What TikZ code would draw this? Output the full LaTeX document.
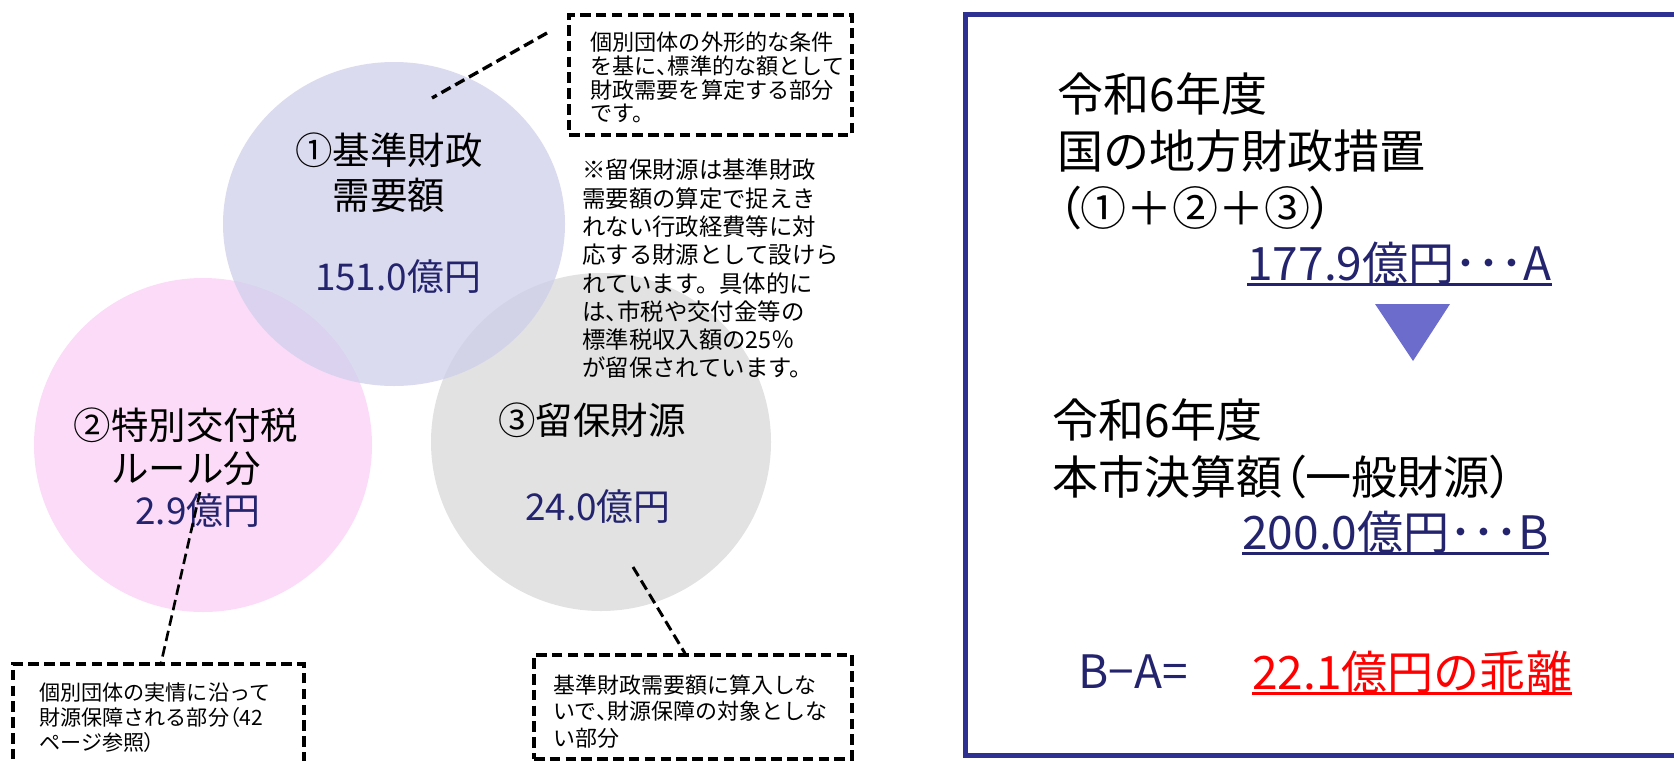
\documentclass[tikz,border=0pt]{standalone}
\usepackage{fontspec}
\setmainfont{Noto Sans CJK JP}
\usepackage{tikz}

\definecolor{lavfill}{RGB}{207,207,235}
\definecolor{pinkfill}{RGB}{251,219,248}
\definecolor{grayfill}{RGB}{226,226,226}
\definecolor{navytext}{RGB}{36,36,110}
\definecolor{framecol}{RGB}{46,49,146}
\definecolor{arrowfill}{RGB}{108,108,204}

\newcommand{\pnarrow}[1]{{\addfontfeature{RawFeature=+palt}#1}}

\begin{document}
\begin{tikzpicture}[scale=0.2]
    \tikzstyle{every node}+=[inner sep=0pt]
    \tikzstyle{bubble}=[font=\fontsize{21.3}{25.6}\selectfont, align=center]
    \tikzstyle{amount}=[font=\fontsize{21}{25}\selectfont, text=navytext]
    \tikzstyle{dashbox}=[draw, dash pattern=on 6pt off 3pt, line width=1.9pt]
    \tikzstyle{leader}=[dash pattern=on 6pt off 3pt, line width=1.9pt]
    \tikzstyle{boxtext}=[align=left, anchor=west]
    \tikzstyle{bigtext}=[font=\fontsize{26.2}{32.4}\selectfont, align=left, anchor=west]
    \useasboundingbox (0,0) rectangle (167.4,-76.0);
    % circles
    \fill [pinkfill] (20.3,-44.5) ellipse (16.9 and 16.7);
    \fill [grayfill] (60.1,-44.2) ellipse (17.0 and 16.9);
    \fill [lavfill, fill opacity=0.75] (39.4,-22.4) ellipse (17.1 and 16.2);
    \node [bubble] (kijun) at (38.9,-17.25) {①基準財政\\需要額};
    \node [amount] (kijunamt) at (39.8,-27.7) {151.0億円};
    \node [bubble, font=\fontsize{21.3}{24.5}\selectfont] (tokubetsu) at (18.6,-44.65) {②特別交付税\\ルール分};
    \node [amount] (tokubetsuamt) at (19.8,-51.1) {2.9億円};
    \node [bubble] (ryuho) at (59.2,-42.0) {③留保財源};
    \node [amount] (ryuhoamt) at (59.8,-50.7) {24.0億円};
    % notes
    \node [dashbox, minimum width=161pt, minimum height=68.3pt] (box1) at (71.05,-7.5) {};
    \node [boxtext, font=\fontsize{12.6}{13.5}\selectfont] (box1txt) at (59.0,-7.75) {個別団体の外形的な条件\\を基に\pnarrow{、}標準的な額として\\財政需要を算定する部分\\です。};
    \node [boxtext, font=\fontsize{13.3}{16.1}\selectfont] (remark) at (58.2,-26.9) {※留保財源は基準財政\\需要額の算定で捉えき\\れない行政経費等に対\\応する財源として設けら\\れています。具体的に\\は\pnarrow{、}市税や交付金等の\\標準税収入額の25％\\が留保されています。};
    \node [dashbox, minimum width=165.6pt, minimum height=61.5pt] (box2) at (15.85,-71.8) {};
    \node [boxtext, font=\fontsize{12}{14.2}\selectfont] (box2txt) at (3.9,-71.8) {個別団体の実情に沿って\\財源保障される部分\pnarrow{（}42\\ページ参照\pnarrow{）}};
    \node [dashbox, minimum width=181pt, minimum height=59.2pt] (box3) at (69.3,-70.7) {};
    \node [boxtext, font=\fontsize{12.5}{15.1}\selectfont] (box3txt) at (55.3,-71.15) {基準財政需要額に算入しな\\いで\pnarrow{、}財源保障の対象としな\\い部分};
    \coordinate (lead1a) at (54.7,-3.3);
    \coordinate (lead1b) at (43.2,-9.8);
    \coordinate (lead2) at (20.0,-49.2);
    \coordinate (lead3) at (63.3,-56.7);
    \draw [leader] (lead1a) -- (lead1b);
    \draw [leader, line width=1.5pt] (lead2) -- ([xshift=7.7pt]box2.north);
    \draw [leader, line width=1.7pt] (lead3) -- ([xshift=-22.8pt]box3.north);
    % right panel
    \draw [framecol, line width=2.85pt] (96.55,-1.45) rectangle (170,-75.55);
    \node [bigtext] (year1) at (105.7,-15.1) {令和6年度\\国の地方財政措置\\\pnarrow{（}①＋②＋③\pnarrow{）}};
    \node [bigtext, text=navytext] (amtA) at (124.7,-26.3) {177.9億円･･･A};
    \draw [navytext, line width=1.3pt] (amtA.south west) -- (amtA.south east);
    \fill [arrowfill] (137.5,-30.4) -- (145.0,-30.4) -- (141.3,-36.1) -- cycle;
    \node [bigtext] (year2) at (105.2,-44.85) {令和6年度\\本市決算額\pnarrow{（}一般財源\pnarrow{）}};
    \node [bigtext, text=navytext] (amtB) at (124.2,-53.2) {200.0億円･･･B};
    \draw [navytext, line width=1.3pt] (amtB.south west) -- (amtB.south east);
    \node [bigtext, text=navytext] (diff) at (107.8,-67.2) {B−A=};
    \node [bigtext, text=red] (gap) at (125.2,-67.2) {22.1億円の乖離};
    \draw [red, line width=1.3pt] (gap.south west) -- (gap.south east);
\end{tikzpicture}
\end{document}
